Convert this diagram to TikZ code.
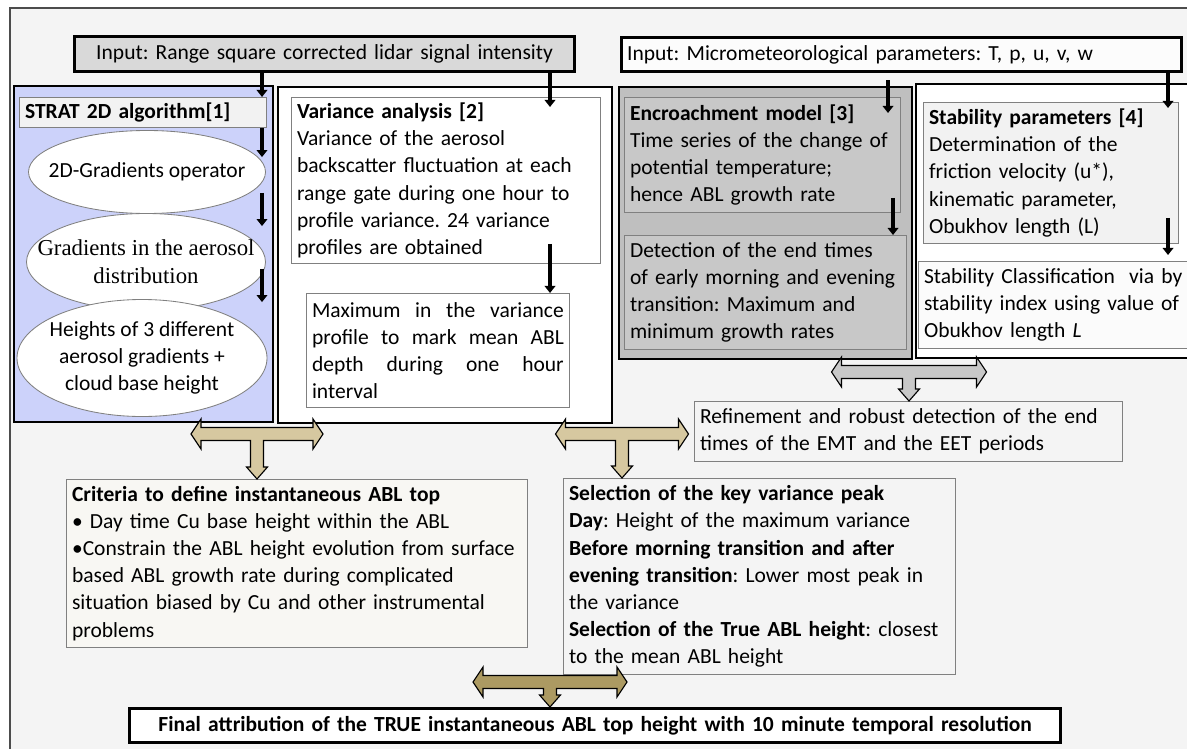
\documentclass[tikz,border=0pt]{standalone}
\usepackage{fontspec}
\setmainfont{Carlito}
\newfontfamily\timesfont{Liberation Serif}
\usetikzlibrary{arrows.meta,calc,shapes.geometric}
\frenchspacing

\definecolor{bgc}{RGB}{244,244,244}
\definecolor{bluec}{RGB}{204,210,250}
\definecolor{grayc}{RGB}{191,191,191}
\definecolor{grayin}{RGB}{200,200,200}
\definecolor{in1c}{RGB}{217,217,217}
\definecolor{tanc}{RGB}{214,200,160}
\definecolor{brownc}{RGB}{172,154,98}
\definecolor{lightc}{RGB}{242,242,242}
\definecolor{critc}{RGB}{248,247,243}

\newcommand{\teearrow}[4]{%
  \coordinate (tc) at (#2);
  \coordinate (tt) at (#4 -| tc);
  \draw[fill=#1, line width=0.8pt]
    ($(tc)+(-#3,0)$) -- ++(10,-15) -- ++(0,8.5) -- ($(tc)+(#3-10,-6.5)$)
    -- ++(0,-8.5) -- ($(tc)+(#3,0)$) -- ++(-10,15) -- ++(0,-8.5)
    -- ($(tc)+(6.5,6.5)$) -- ($(tt)+(6.5,-12)$) -- ++(4,0) -- (tt)
    -- ++(-10.5,-12) -- ++(4,0) -- ($(tc)+(-6.5,6.5)$)
    -- ($(tc)+(-#3+10,6.5)$) -- ++(0,8.5) -- cycle;
}

\begin{document}
\begin{tikzpicture}[x=0.025cm, y=-0.025cm,
    every node/.style={font=\fontsize{15.3}{19.3}\selectfont},
    wh/.code 2 args={%
      \pgfmathsetlengthmacro\boxw{#1*0.025cm}%
      \pgfmathsetlengthmacro\boxh{#2*0.025cm}%
      \pgfmathsetlengthmacro\boxt{#1*0.025cm-8pt}%
      \edef\boxkeys{minimum width=\boxw, minimum height=\boxh, text width=\boxt}%
      \expandafter\pgfkeysalso\expandafter{\boxkeys}},
    ellwh/.style 2 args={minimum width=#1*0.025cm, minimum height=#2*0.025cm},
    inbox/.style={draw=black, line width=2.2pt, anchor=north west, inner xsep=4pt, inner ysep=0pt},
    colbox/.style={draw=black, line width=1.6pt, anchor=north west, inner sep=0pt},
    txtbox/.style={draw=gray, line width=0.6pt, anchor=north west, inner xsep=4pt, inner ysep=2pt, align=left},
    ell/.style={ellipse, draw=gray, fill=white, line width=0.6pt, inner sep=0pt},
    blk/.style={line width=2.8pt, -{Triangle[length=5pt,width=7.5pt]}}
  ]
  \clip (0,0) rectangle (1187,748);
  \draw[draw=gray!60!black, fill=bgc, line width=0.8pt] (10,8) rectangle (1200,760);

  \node[inbox, fill=in1c, wh={500}{35}, align=center] (in1) at (73,35)
    {Input: Range square corrected lidar signal intensity};
  \node[inbox, fill=white!98!gray, wh={560}{34}, align=left] (in2) at (620,36)
    {Input: Micrometeorological parameters: T, p, u, v, w};

  \node[colbox, fill=bluec, wh={259}{336}] (col1) at (13,85) {};
  \node[colbox, fill=white, wh={334}{336}] (col2) at (277,86) {};
  \node[colbox, fill=grayc, wh={293}{272}] (col3) at (618,86) {};
  \node[colbox, fill=white, wh={290}{274}] (col4) at (915,83) {};

  \node[txtbox, fill=lightc, wh={247}{30}] (strat) at (19,97) {\textbf{STRAT 2D algorithm[1]}};
  \node[ell, ellwh={237}{83}, label={center:2D-Gradients operator}] (ell1) at (147,172) {};
  \node[ell, ellwh={239}{97},
    label={[font=\timesfont\fontsize{16.2}{20}\selectfont, align=center]center:Gradients in the aerosol\\distribution}] (ell2) at (146,262) {};
  \node[ell, ellwh={250}{117},
    label={[align=center]center:Heights of 3 different\\aerosol gradients +\\cloud base height}] (ell3) at (142,358) {};

  \node[txtbox, fill=white, wh={309}{166}] (var) at (291,97)
    {\textbf{Variance analysis [2]}\\Variance of the aerosol\\backscatter fluctuation at each\\range gate during one hour to\\profile variance. 24 variance\\profiles are obtained};
  \node[txtbox, fill=white, wh={263}{114}, align=justify] (max) at (306,293)
    {Maximum in the variance\linebreak profile to mark mean ABL\linebreak depth during one hour\linebreak interval};

  \node[txtbox, fill=grayin, wh={276}{115}] (enc) at (624,97)
    {\textbf{Encroachment model [3]}\\Time series of the change of\\potential temperature;\\hence ABL growth rate};
  \node[txtbox, fill=grayin, wh={282}{114}] (det) at (624,235)
    {Detection of the end times\\of early morning and evening\\transition: Maximum and\\minimum growth rates};

  \node[txtbox, fill=lightc, wh={255}{141}] (stab) at (923,102)
    {\textbf{Stability parameters [4]}\\Determination of the\\friction velocity (u*),\\kinematic parameter,\\Obukhov length (L)};
  \node[txtbox, fill=white!97!gray, wh={277}{87}] (cls) at (918,261)
    {Stability Classification\ \ via by\\stability index using value of\\Obukhov length \textit{L}};

  \node[txtbox, fill=bgc, wh={428}{60}] (ref) at (694,401)
    {Refinement and robust detection of the end\\times of the EMT and the EET periods};
  \node[txtbox, fill=critc, wh={461}{168}] (crit) at (66,479)
    {\textbf{Criteria to define instantaneous ABL top}\\• Day time Cu base height within the ABL\\•Constrain the ABL height evolution from surface\\based ABL growth rate during complicated\\situation biased by Cu and other instrumental\\problems};
  \node[txtbox, fill=bgc, wh={392}{196}] (sel) at (563,478)
    {\textbf{Selection of the key variance peak}\\\textbf{Day}: Height of the maximum variance\\\textbf{Before morning transition and after}\\\textbf{evening transition}: Lower most peak in\\the variance\\\textbf{Selection of the True ABL height}: closest\\to the mean ABL height};
  \node[inbox, fill=white, wh={931}{34}, align=center] (final) at (128,707)
    {\textbf{Final attribution of the TRUE instantaneous ABL top height with 10 minute temporal resolution}};

  \coordinate (xa) at (262,0);
  \coordinate (xb) at (550,0);
  \coordinate (xc) at (888,0);
  \coordinate (xd) at (893,0);
  \coordinate (xe) at (1168,0);
  \draw[blk] (in1.south -| xa) -- (strat.north -| xa);
  \draw[blk] (strat.south -| xa) -- ($(ell1.north -| xa)+(0,27)$);
  \draw[blk] ($(ell1.south -| xa)+(0,-21)$) -- ($(ell2.north -| xa)+(0,13)$);
  \draw[blk] ($(ell2.south -| xa)+(0,-42)$) -- ($(ell3.north -| xa)+(0,3)$);
  \draw[blk] (in1.south -| xb) -- ($(var.north -| xb)+(0,10)$);
  \draw[blk] ($(var.south -| xb)+(0,-20)$) -- (max.north -| xb);
  \draw[blk] ($(in2.south -| xc)+(0,7)$) -- ($(enc.north -| xc)+(0,16)$);
  \draw[blk] ($(enc.south -| xd)+(0,-15)$) -- (det.north -| xd);
  \draw[blk] (in2.south -| xe) -- ($(stab.north -| xe)+(0,6)$);
  \draw[blk] ($(stab.south -| xe)+(0,-26)$) -- ($(cls.north -| xe)+(0,-6)$);

  \teearrow{tanc}{257,434}{66}{crit.north}
  \teearrow{tanc}{622,434}{66.5}{sel.north}
  \teearrow{grayin}{909,372}{77.5}{ref.north}
  \teearrow{brownc}{550,682}{77}{final.north}
\end{tikzpicture}
\end{document}
